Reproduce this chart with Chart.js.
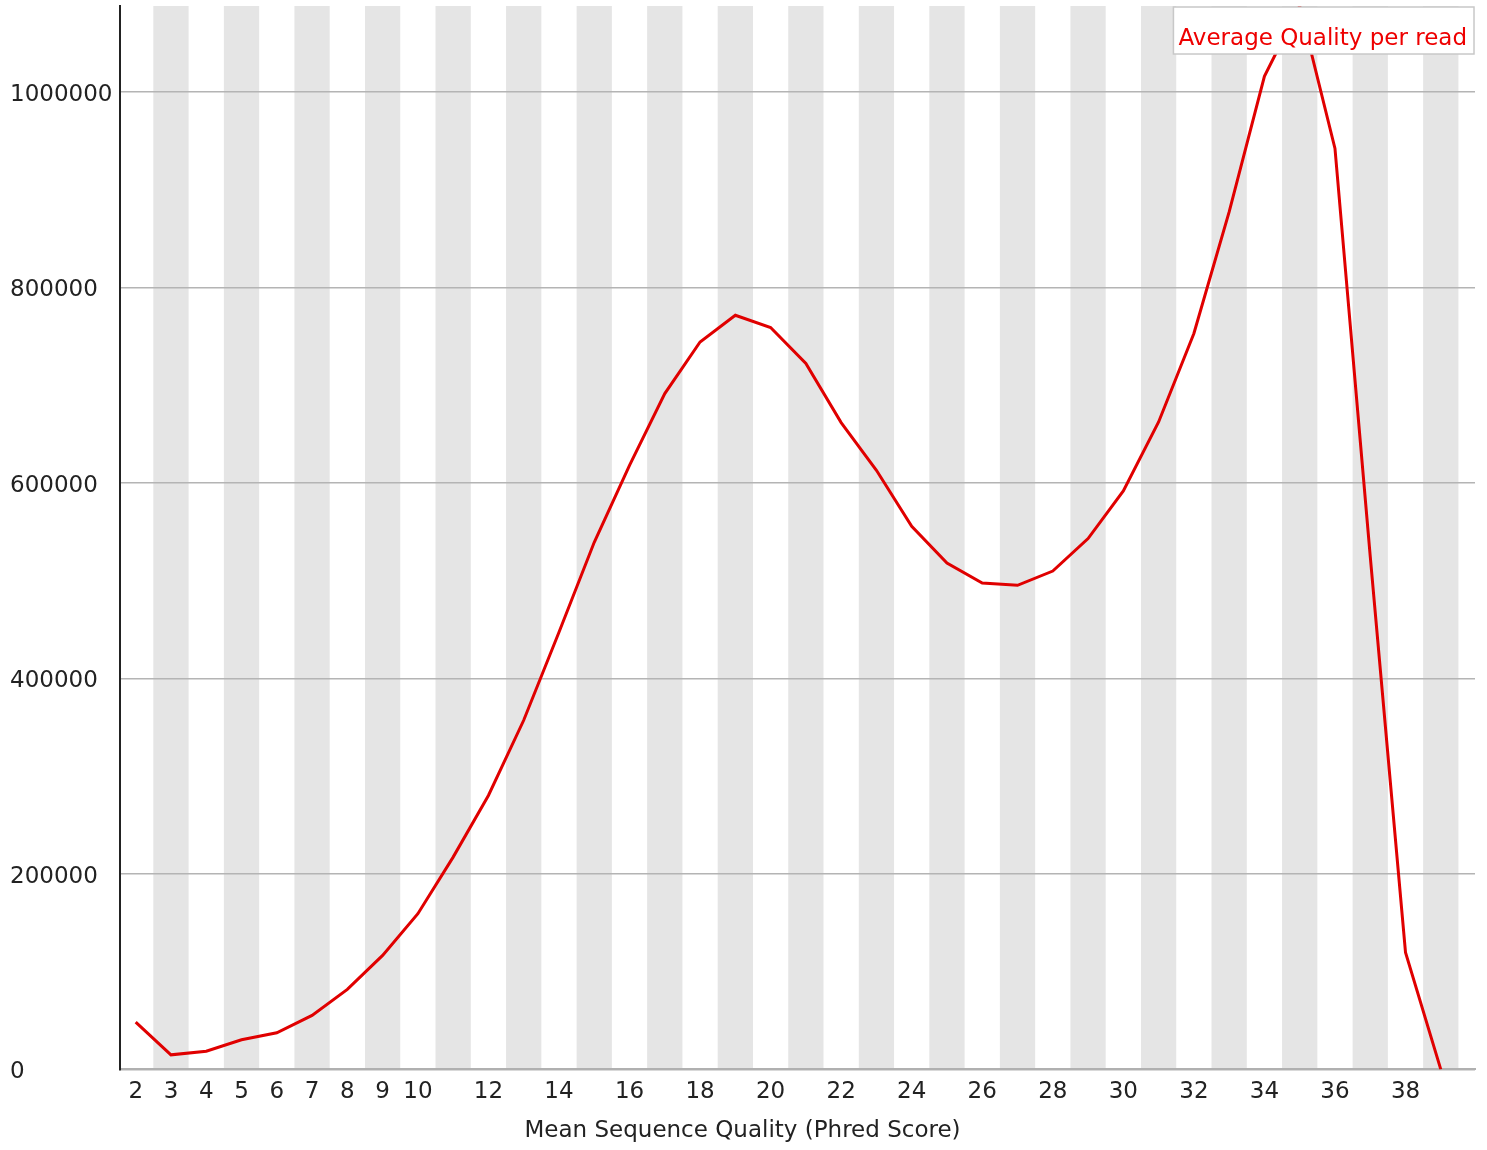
<!DOCTYPE html>
<html>
<head>
<meta charset="utf-8">
<title>Per sequence quality scores</title>
<script src="https://cdn.jsdelivr.net/npm/chart.js@4/dist/chart.umd.min.js"></script>
<style>
  html, body { margin: 0; padding: 0; background: #ffffff; }
  #wrap { width: 1487px; height: 1150px; }
</style>
</head>
<body>
<div id="wrap"><canvas id="c" width="1487" height="1150"></canvas></div>
<script>
// Mean quality score per read (Phred) and number of reads at each score
const qualityScores = [2, 3, 4, 5, 6, 7, 8, 9, 10, 11, 12, 13, 14, 15, 16, 17, 18, 19, 20,
  21, 22, 23, 24, 25, 26, 27, 28, 29, 30, 31, 32, 33, 34, 35, 36, 37, 38, 39];
const readCounts = [48300, 14900, 18600, 30300, 37500, 55200, 81800, 116600, 159300, 217200,
  280300, 357200, 447200, 539300, 618100, 691500, 744300, 771600, 759000, 722200,
  661800, 613000, 555600, 518100, 497600, 495300, 509900, 543100, 591800, 662400,
  752900, 877300, 1016000, 1088000, 942300, 525000, 119600, 0];
const seriesLabel = 'Average Quality per read';

const xTickValues = [2, 3, 4, 5, 6, 7, 8, 9, 10, 12, 14, 16, 18, 20, 22, 24, 26, 28, 30, 32, 34, 36, 38];
const yTickValues = [0, 200000, 400000, 600000, 800000, 1000000];
const yMax = 1088000;

const FONT = 'DejaVu Sans';
const FONT_SIZE = 23;

// Alternating grey bands behind every odd quality score
const stripes = {
  id: 'stripes',
  beforeDraw(chart) {
    const { ctx, chartArea, scales } = chart;
    ctx.save();
    ctx.fillStyle = '#e5e5e5';
    qualityScores.forEach(q => {
      if (q % 2 === 1) {
        const x0 = scales.x.getPixelForValue(q - 0.5);
        const x1 = scales.x.getPixelForValue(q + 0.5);
        ctx.fillRect(x0, chartArea.top, x1 - x0, chartArea.bottom - chartArea.top);
      }
    });
    ctx.restore();
  }
};

// Boxed series key in the top-right corner of the plot
const seriesKey = {
  id: 'seriesKey',
  afterDatasetsDraw(chart) {
    const { ctx, chartArea } = chart;
    const label = chart.data.datasets[0].label;
    ctx.save();
    ctx.font = FONT_SIZE + 'px "' + FONT + '"';
    const w = ctx.measureText(label).width + 12;
    const h = 47;
    const x = chartArea.right - w - 1;
    const y = chartArea.top + 1;
    ctx.fillStyle = '#ffffff';
    ctx.fillRect(x, y, w, h);
    ctx.strokeStyle = '#c8c8c8';
    ctx.lineWidth = 1.5;
    ctx.strokeRect(x, y, w, h);
    ctx.fillStyle = '#ee0000';
    ctx.textBaseline = 'alphabetic';
    ctx.fillText(label, x + 5, y + 38);
    ctx.restore();
  }
};

new Chart(document.getElementById('c'), {
  type: 'line',
  data: {
    datasets: [{
      label: seriesLabel,
      data: qualityScores.map((q, i) => ({ x: q, y: readCounts[i] })),
      borderColor: '#e00000',
      borderWidth: 3,
      pointRadius: 0,
      tension: 0,
      fill: false
    }]
  },
  options: {
    responsive: false,
    animation: false,
    layout: { padding: { left: 10, right: 12, top: 6, bottom: 0 } },
    plugins: {
      legend: { display: false },
      tooltip: { enabled: false },
      title: {
        display: true,
        position: 'bottom',
        text: 'Mean Sequence Quality (Phred Score)',
        color: '#222222',
        font: { family: FONT, size: FONT_SIZE, weight: 'normal' },
        padding: { top: 8, bottom: 5 }
      }
    },
    scales: {
      x: {
        type: 'linear',
        min: 1.555,
        max: 39.97,
        afterBuildTicks(scale) { scale.ticks = xTickValues.map(v => ({ value: v })); },
        afterFit(scale) { scale.height = 40; },
        grid: { display: false, drawTicks: false },
        border: { display: true, color: '#b0b0b0', width: 2 },
        ticks: {
          autoSkip: false,
          maxRotation: 0,
          padding: 9,
          color: '#222222',
          font: { family: FONT, size: FONT_SIZE },
          callback: v => String(v)
        }
      },
      y: {
        min: 0,
        max: yMax,
        afterBuildTicks(scale) { scale.ticks = yTickValues.map(v => ({ value: v })); },
        afterFit(scale) {
          scale.width = 110;
          scale.paddingTop = 0;
          scale.paddingBottom = 0;
        },
        grid: { color: '#b4b4b4', lineWidth: 1.5, drawTicks: false },
        border: { display: true, color: '#222222', width: 2 },
        ticks: {
          crossAlign: 'far',
          padding: 8,
          labelOffset: 3,
          color: '#222222',
          font: { family: FONT, size: FONT_SIZE },
          callback: v => String(v)
        }
      }
    }
  },
  plugins: [stripes, seriesKey]
});
</script>
</body>
</html>
